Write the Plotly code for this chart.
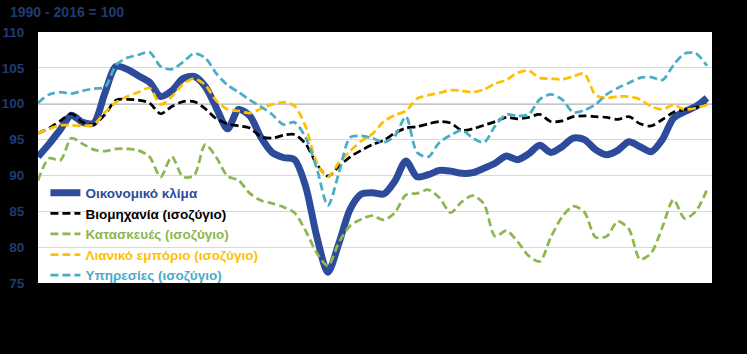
import plotly.graph_objects as go

# x categories: evenly spaced periods (index)
periods = list(range(61))

climate = [92.6, 94.4, 96.4, 98.4, 97.4, 97.3, 101.5, 105.2, 104.8, 103.9,
           103.0, 101.0, 101.8, 103.5, 103.8, 102.4, 99.4, 96.5, 99.2, 98.3,
           95.3, 93.2, 92.5, 92.2, 88.5, 81.5, 76.5, 80.6, 85.3, 87.4,
           87.6, 87.4, 89.2, 92.0, 89.8, 90.1, 90.7, 90.6, 90.3, 90.4,
           91.0, 91.7, 92.7, 92.2, 93.0, 94.2, 93.2, 94.0, 95.2, 95.0,
           93.6, 92.9, 93.5, 94.7, 94.0, 93.3, 95.0, 98.0, 98.9, 99.6, 100.8]

industry = [95.9, 96.6, 97.6, 98.6, 97.4, 97.1, 98.5, 100.5, 100.6, 100.5,
            100.1, 98.6, 99.6, 100.3, 100.3, 99.3, 97.9, 97.2, 96.9, 96.6,
            95.4, 95.2, 95.6, 95.7, 94.4, 91.6, 89.9, 91.3, 92.6, 93.5,
            94.3, 94.9, 95.9, 96.6, 96.8, 97.2, 97.5, 97.3, 96.3, 96.5,
            97.0, 97.5, 98.1, 97.9, 98.1, 98.5, 97.5, 97.6, 98.2, 98.3,
            98.2, 98.1, 97.8, 98.2, 97.2, 96.9, 97.8, 98.8, 99.2, 99.5, 99.9]

construction = [89.3, 92.4, 92.1, 95.2, 94.4, 93.6, 93.4, 93.7, 93.7, 93.5,
                92.6, 89.8, 92.6, 89.8, 90.0, 94.3, 92.5, 89.9, 89.3, 87.5,
                86.5, 86.1, 85.6, 84.8, 82.3, 79.2, 77.4, 80.7, 83.0, 83.9,
                84.4, 83.8, 84.8, 87.3, 87.5, 88.0, 86.9, 84.8, 86.3, 87.2,
                86.0, 81.5, 82.3, 80.8, 78.8, 78.0, 81.4, 84.2, 85.7, 84.9,
                81.4, 81.5, 83.6, 82.5, 78.3, 79.2, 82.8, 86.6, 84.0, 85.0, 88.0]

retail = [95.9, 96.5, 97.0, 97.0, 96.9, 97.1, 98.8, 100.2, 101.0, 101.6,
          102.2, 99.9, 101.0, 102.7, 103.5, 102.6, 100.4, 99.2, 99.0, 98.7,
          99.3, 99.9, 100.2, 99.7, 96.8, 91.8, 89.8, 91.8, 93.4, 94.8,
          95.8, 97.5, 98.4, 99.0, 100.7, 101.2, 101.5, 101.9, 101.8, 101.6,
          102.0, 102.8, 103.3, 104.3, 104.6, 103.6, 103.5, 103.4, 103.8, 104.2,
          101.2, 100.8, 101.0, 101.0, 100.6, 99.6, 99.2, 99.8, 99.2, 99.4, 99.9]

services = [100.1, 101.3, 101.6, 101.4, 101.8, 102.1, 102.3, 105.4, 106.4, 106.8,
            107.2, 105.2, 104.8, 105.8, 107.0, 106.4, 104.2, 102.6, 101.6, 100.5,
            99.6, 98.5, 97.1, 97.4, 95.3, 91.0, 85.8, 90.4, 95.3, 95.5,
            95.2, 94.6, 95.5, 98.2, 93.2, 92.6, 94.6, 95.6, 96.3, 95.2,
            94.6, 96.9, 98.5, 98.3, 98.5, 100.6, 101.3, 100.6, 98.8, 99.1,
            99.9, 101.3, 102.2, 102.9, 103.6, 103.7, 103.3, 105.4, 107.0, 107.0, 105.3]

names = ["Οικονομικό κλίμα", "Βιομηχανία (ισοζύγιο)", "Κατασκευές (ισοζύγιο)",
         "Λιανικό εμπόριο (ισοζύγιο)", "Υπηρεσίες (ισοζύγιο)"]
y_ticks = [75, 80, 85, 90, 95, 100, 105, 110]
base_value = 100
title_text = "1990 - 2016 = 100"

colors = ["#2C4B9B", "#000000", "#8DB650", "#FFC000", "#4BACC6"]
series = [climate, industry, construction, retail, services]

fig = go.Figure()
for i, (nm, vals, col) in enumerate(zip(names, series, colors)):
    if i == 0:
        line = dict(color=col, width=7, shape="spline", smoothing=0.8)
    else:
        line = dict(color=col, width=2.75, dash="8px,4px", shape="spline", smoothing=0.8)
    fig.add_trace(go.Scatter(
        x=periods, y=vals, mode="lines", line=line,
        name=f"<span style='color:{col}'><b>{nm}</b></span>",
    ))

fig.add_shape(type="line", xref="paper", x0=0, x1=1, yref="y",
              y0=base_value, y1=base_value, line=dict(color="#8C8C8C", width=1.5),
              layer="below")

fig.add_annotation(text=f"<b>{title_text}</b>", xref="paper", yref="paper",
                   x=-0.0445, y=1.08, xanchor="left", yanchor="middle",
                   showarrow=False, font=dict(size=14, color="#1F3B73",
                                              family="Liberation Sans, Arial"))

fig.update_layout(
    width=747, height=354,
    margin=dict(l=38, r=35, t=32, b=71),
    paper_bgcolor="#000000",
    plot_bgcolor="#FFFFFF",
    font=dict(family="Liberation Sans, Arial", size=13, color="#1F3B73"),
    showlegend=True,
    legend=dict(x=0.011, y=0.42, xanchor="left", yanchor="top",
                bgcolor="rgba(0,0,0,0)", itemwidth=30,
                font=dict(size=13.5, family="Liberation Sans, Arial"),
                tracegroupgap=0),
    xaxis=dict(range=[0, 60.45], showticklabels=False, showgrid=False,
               zeroline=False, showline=False, ticks="", automargin=False),
    yaxis=dict(range=[75, 110], tickvals=y_ticks, showgrid=True,
               gridcolor="#D9D9D9", gridwidth=1, zeroline=False, automargin=False,
               showline=False, ticks="outside", ticklen=10, tickcolor="#000000",
               tickfont=dict(size=13.5, color="#1F3B73",
                             family="Liberation Sans, Arial", weight="bold")),
)

fig.write_html("out.html")
